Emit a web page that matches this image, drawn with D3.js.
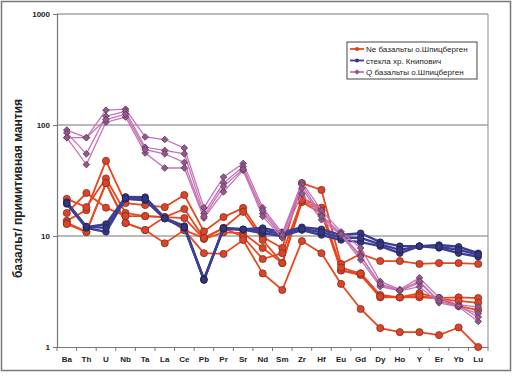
<!DOCTYPE html>
<html>
<head>
<meta charset="utf-8">
<script src="https://cdn.jsdelivr.net/npm/d3@7"></script>
<style>
body { margin: 0; background: #fff; }
svg text { font-family: "Liberation Sans", Arial, sans-serif; }
</style>
</head>
<body>
<script>
// элементы (порядок по оси x)
var elements = ["Ba","Th","U","Nb","Ta","La","Ce","Pb","Pr","Sr","Nd","Sm","Zr","Hf","Eu","Gd","Dy","Ho","Y","Er","Yb","Lu"];
var yTicks = [1, 10, 100, 1000];

// Ne базальты о.Шпицберген
var ne1 = [13.7,17.1,47.5,19.8,19.0,18.2,23.4,11.0,14.8,17.9,9.8,7.8,30,26,5.6,6.9,5.95,5.95,5.6,5.7,5.7,5.6];
var ne2 = [21.6,18.2,33,16.1,15.1,14.8,17.5,9.6,11.8,16.5,9.2,5.7,22,18,4.9,4.6,2.94,2.8,3.06,2.76,2.8,2.76];
var ne3 = [16.1,24.4,18,15.1,15.1,14.8,14.5,9.4,10.8,10.6,7.8,5.7,20.2,16,4.9,4.45,2.8,2.8,2.8,2.76,2.34,2.15];
var ne4 = [12.8,10.9,30,13.1,11.3,8.6,11.3,7.0,6.9,9.2,4.6,3.26,9.0,7.0,3.7,2.2,1.48,1.36,1.36,1.28,1.5,1.0];
var ne5 = [13.2,10.9,30,13.1,11.3,14.8,11.3,9.6,11.8,9.8,6.2,7.0,21,17,5.2,4.6,2.85,2.8,2.9,2.7,2.6,2.5];
// стекла хр. Книпович
var gl1 = [20.2,12.0,12.8,22.5,22.4,14.5,12.3,4.0,11.8,11.5,11.8,10.8,12.0,11.5,10.2,10.6,8.8,8.1,8.1,8.3,8.0,7.0];
var gl2 = [19.4,11.8,10.9,21.6,21.0,14.3,11.8,4.1,11.6,11.4,10.6,10.0,11.3,10.2,9.2,8.8,8.1,7.0,8.1,7.8,7.0,6.5];
var gl3 = [19.8,12.2,11.8,22.0,21.5,14.4,12.0,4.05,11.7,11.5,11.2,10.4,11.6,10.8,9.7,9.6,8.4,7.5,8.1,8.0,7.5,6.8];
// Q базальты о.Шпицберген
var q1 = [90,77,136,139,78,74,62,18,34,45,18,10.6,30.5,17,10.9,7.8,3.9,3.3,4.2,2.8,2.4,2.3];
var q2 = [85,55,120,133,63,59,55,16,30,42,16,10,29,15.4,10.5,6.7,3.6,3.2,3.8,2.6,2.3,2.0];
var q3 = [77,44,106,118,56,41,41,14.5,25,39,15,9.6,24,14,10.2,6.1,3.5,3.2,3.5,2.5,2.3,1.7];
var q4 = [77,77,112,125,60,55,46,15,28,40,17,10.2,27,15,10.4,6.5,3.7,3.25,3.9,2.6,2.35,1.86];

var neSeries = [ne1, ne2, ne3, ne5, ne4];
var glSeries = [gl1, gl2, gl3];
var qSeries = [q1, q2, q3, q4];

var width = 520, height = 376;
var plot = {left: 57, right: 488, top: 14, bottom: 347};

var svg = d3.select("body").append("svg")
    .attr("width", width)
    .attr("height", height);

// рамка диаграммы
svg.append("rect")
    .attr("x", 1.5).attr("y", 1.5)
    .attr("width", 509).attr("height", 369)
    .style("fill", "#fff")
    .style("stroke", "#7a7a7a")
    .style("stroke-width", 1.5);

var x = d3.scaleBand().domain(elements).range([plot.left, plot.right]).padding(0);
var y = d3.scaleLog().domain([1, 1000]).range([plot.bottom, plot.top]);
function cx(i) { return x(elements[i]) + x.bandwidth() / 2; }

// сетка
svg.selectAll(".grid").data(yTicks.filter(function(d) { return d > 1; }))
    .enter().append("line")
    .attr("class", "grid")
    .attr("x1", plot.left).attr("x2", plot.right)
    .attr("y1", function(d) { return y(d); }).attr("y2", function(d) { return y(d); })
    .style("stroke", "#777").style("stroke-width", 1.2);

svg.append("line")
    .attr("x1", plot.right).attr("x2", plot.right)
    .attr("y1", plot.top).attr("y2", plot.bottom)
    .style("stroke", "#999").style("stroke-width", 1.2);

// оси
var yAxis = d3.axisLeft(y).tickValues(yTicks).tickFormat(d3.format("d")).tickSize(4).tickPadding(3);
var gy = svg.append("g")
    .attr("transform", "translate(" + plot.left + ",0)")
    .call(yAxis);
gy.select(".domain").style("stroke", "#777").style("stroke-width", 1.2);
gy.selectAll(".tick line").style("stroke", "#777");
gy.selectAll("text").style("font-size", "8px").style("font-weight", "bold").style("fill", "#222");

var xAxis = d3.axisBottom(x).tickSize(0).tickPadding(9);
var gx = svg.append("g")
    .attr("transform", "translate(0," + plot.bottom + ")")
    .call(xAxis);
gx.select(".domain").style("stroke", "#777").style("stroke-width", 1.2);
gx.selectAll("text").style("font-size", "8px").style("font-weight", "bold").style("fill", "#222");

// засечки между категориями
svg.selectAll(".xtick").data(elements.concat(["end"]))
    .enter().append("line")
    .attr("class", "xtick")
    .attr("x1", function(d, i) { return plot.left + i * x.bandwidth(); })
    .attr("x2", function(d, i) { return plot.left + i * x.bandwidth(); })
    .attr("y1", plot.bottom).attr("y2", plot.bottom + 4)
    .style("stroke", "#777");

// подпись оси y
svg.append("text")
    .attr("transform", "translate(22," + ((plot.top + plot.bottom) / 2 + 8) + ") rotate(-90)")
    .style("text-anchor", "middle")
    .style("font-size", "12px")
    .style("font-weight", "bold")
    .style("fill", "#222")
    .text("базальт/ примитивная мантия");

var line = d3.line()
    .x(function(d, i) { return cx(i); })
    .y(function(d) { return y(d); });

function drawGroup(series, lineColor, lineWidth, markColor, markStroke, symbol, size, rot) {
    var g = svg.append("g");
    series.forEach(function(s) {
        g.append("path")
            .datum(s)
            .attr("d", line)
            .style("fill", "none")
            .style("stroke", lineColor)
            .style("stroke-width", lineWidth);
    });
    series.forEach(function(s) {
        g.selectAll(null).data(s).enter().append("path")
            .attr("d", d3.symbol().type(symbol).size(size))
            .attr("transform", function(d, i) { return "translate(" + cx(i) + "," + y(d) + ") rotate(" + rot + ")"; })
            .style("fill", markColor)
            .style("stroke", markStroke)
            .style("stroke-width", 0.8);
    });
}

drawGroup(neSeries, "#e8481f", 1.8, "#d9452b", "#8a2c1c", d3.symbolCircle, 40, 0);
drawGroup(glSeries, "#3c3f94", 2.4, "#34377f", "#1f2150", d3.symbolCircle, 34, 0);
drawGroup(qSeries, "#c673b6", 1.3, "#94588e", "#5e3a5c", d3.symbolSquare, 22, 45);

// легенда
var legend = [
    {name: "Ne базальты о.Шпицберген", color: "#e8481f", mark: "#d9452b", symbol: d3.symbolCircle, rot: 0},
    {name: "стекла хр. Книпович", color: "#3c3f94", mark: "#34377f", symbol: d3.symbolCircle, rot: 0},
    {name: "Q базальты о.Шпицберген", color: "#c673b6", mark: "#94588e", symbol: d3.symbolSquare, rot: 45}
];
var lg = svg.append("g").attr("transform", "translate(347,42)");
lg.append("rect")
    .attr("width", 130).attr("height", 37)
    .style("fill", "#fff")
    .style("stroke", "#444")
    .style("stroke-width", 1);
var items = lg.selectAll(".item").data(legend).enter().append("g")
    .attr("transform", function(d, i) { return "translate(0," + (7 + i * 11.5) + ")"; });
items.append("line")
    .attr("x1", 3).attr("x2", 17)
    .style("stroke", function(d) { return d.color; })
    .style("stroke-width", 1.8);
items.append("path")
    .attr("d", function(d) { return d3.symbol().type(d.symbol).size(14)(); })
    .attr("transform", function(d) { return "translate(10,0) rotate(" + d.rot + ")"; })
    .style("fill", function(d) { return d.mark; });
items.append("text")
    .attr("x", 19).attr("y", 3)
    .style("font-size", "8px")
    .style("fill", "#222")
    .text(function(d) { return d.name; });
</script>
</body>
</html>
